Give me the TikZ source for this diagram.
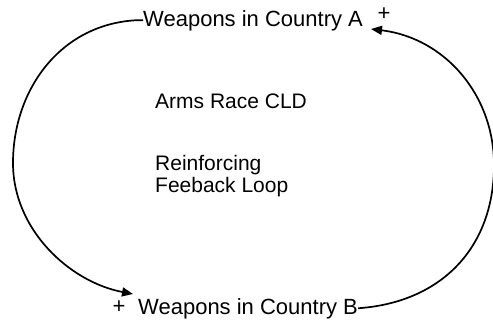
\documentclass[tikz,border=0pt]{standalone}
\usepackage{fontspec}
\setmainfont{Liberation Sans}
\usetikzlibrary{arrows.meta}
\begin{document}
\begin{tikzpicture}[x=1pt,y=-1pt,
  lbl/.style={inner sep=0pt,font=\fontsize{22}{24}\selectfont},
  note/.style={inner sep=0pt,font=\fontsize{21}{22}\selectfont,align=left},
  link/.style={line width=1.7pt,-{Triangle[length=11pt,width=9pt]}},
  pol/.style={inner sep=0pt,font=\fontsize{22}{24}\selectfont}]
\useasboundingbox (0,0) rectangle (493,324);
\node[lbl,anchor=base west] (wa) at (143,26) {Weapons in Country A};
\node[lbl,anchor=base west] (wb) at (138,314) {Weapons in Country B};
\node[note,anchor=base west] (title) at (155,108) {Arms Race CLD};
\node[note,anchor=base west] (kind) at (155,192) {Reinforcing\\Feeback Loop};
\node[pol] (pa) at (384,14) {+};
\node[pol] (pb) at (119,307) {+};
\coordinate (ta) at (371,29);
\coordinate (tb) at (133,294);
% A drives B along the left arc
\draw[link] (wa.west) -- ++(-8,0) .. controls (60,25) and (13,90) .. (13,163)
  .. controls (13,230) and (70,282) .. (tb);
% B drives A along the right arc
\draw[link] (wb.east) -- ++(10,-1) .. controls (445,298) and (494,245) .. (494,165)
  .. controls (494,95) and (445,38) .. (ta);
\end{tikzpicture}
\end{document}
